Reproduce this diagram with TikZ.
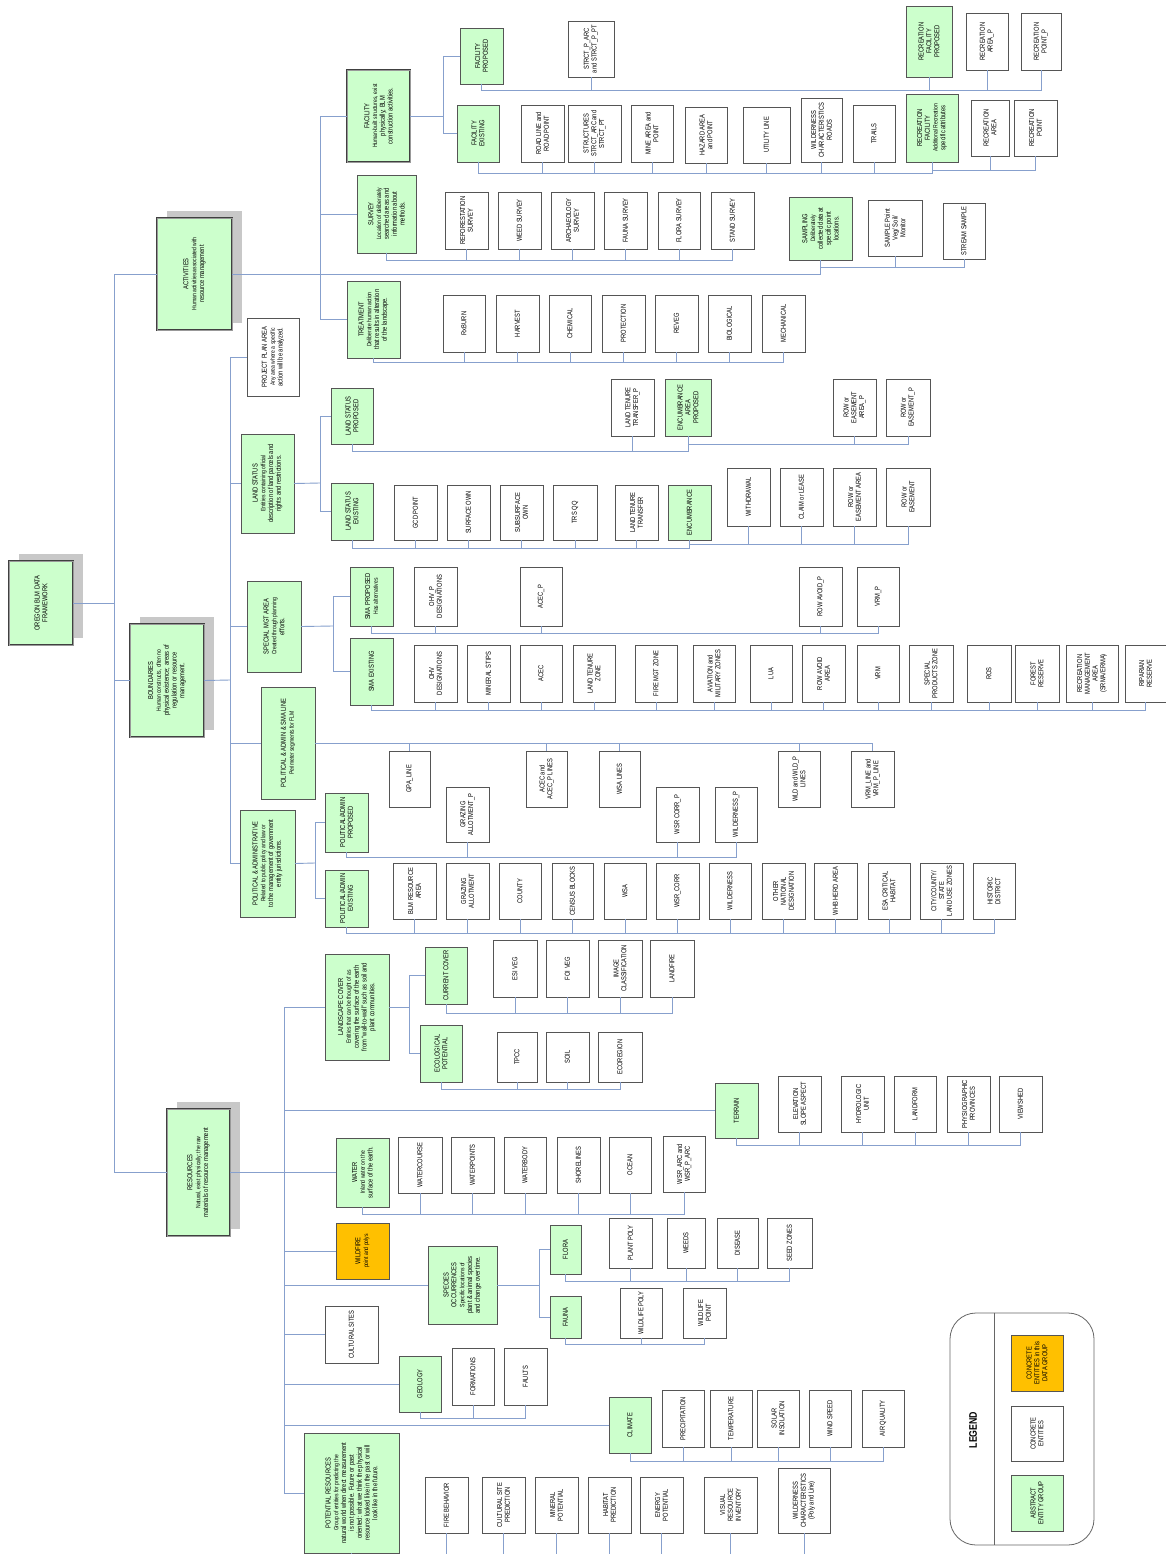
\documentclass[tikz,border=0pt]{standalone}
\usepackage{fontspec}
\setmainfont{Liberation Sans}[FakeStretch=0.8]
\usetikzlibrary{backgrounds,calc}
\definecolor{lgreen}{HTML}{CCFFCC}
\definecolor{orng}{HTML}{FFC000}
\definecolor{connc}{RGB}{135,160,205}
\definecolor{bordc}{HTML}{555555}
\definecolor{shadc}{HTML}{C8C8C8}
\newcommand\lf{\fontsize{7.2}{7.8}\selectfont}
\newcommand\df{\fontsize{6.3}{6.9}\selectfont}
\tikzset{
 box/.style={draw=bordc, line width=0.75pt, fill=white, inner sep=0pt, outer sep=0pt},
 grn/.style={fill=lgreen},
 org/.style={fill=orng},
 major/.style={fill=lgreen, draw=black!75, double=black!40, double distance=0.5pt, line width=0.8pt},
 lbl/.style={rotate=90, align=center, inner sep=0pt, font=\lf, text=black},
 conn/.style={draw=connc, line width=0.9pt},
}
\newcommand\bx[7]{%
 \node[box,#1,minimum width={(#5-#3)*1pt},minimum height={(#6-#4)*1pt}] (#2) at ({(#3+#5)/2},{(#4+#6)/2}) {};
 \node[lbl] (#2-t) at (#2.center) {#7};}
\newcommand\bus[3]{\foreach \ch in {#3}{\draw[conn] (#1.south) -- (#1.south |- 0,#2) -| (\ch.south);}}
\begin{document}
\begin{tikzpicture}[x=1pt,y=-1pt]
\useasboundingbox (0,0) rectangle (1166,1554);
\begin{scope}[on background layer]\fill[white] (0,0) rectangle (1166,1554);\end{scope}

% ---------- top level
\bx{major}{oregon}{9}{561}{73}{645}{OREGON BLM DATA\\FRAMEWORK}
\bx{major}{act}{157}{218}{232}{330}{ACTIVITIES\\\df Human activities associated with\\resource management}
\bx{major}{bound}{130}{624}{204}{737}{BOUNDARIES\\\df Human constructs, often no\\physical existence; areas of\\regulation or resource\\management.}
\bx{major}{res}{167}{1109}{230}{1236}{RESOURCES\\\df Natural, exist physically; the raw\\materials of resource management}

% ---------- activities
\bx{major}{fac}{347}{70}{410}{162}{FACILITY\\\df Human-built structures, exist\\physically; BLM\\construction activities.}
\bx{grn}{facp}{460}{28}{503}{84}{FACILITY\\PROPOSED}
\bx{grn}{face}{457}{105}{499}{162}{FACILITY\\EXISTING}
\bx{}{strp}{568}{21}{614}{77}{STRCT\_P\_ARC\\and STRCT\_P\_PT}
\bx{grn}{rfp}{906}{6}{952}{77}{RECREATION\\FACILITY\\PROPOSED}
\bx{}{rap}{966}{13}{1008}{70}{RECREATION\\AREA\_P}
\bx{}{rpp}{1021}{13}{1061}{70}{RECREATION\\POINT\_P}
\bx{}{road}{521}{105}{564}{162}{ROAD LINE and\\ROAD POINT}
\bx{}{struct}{568}{105}{621}{162}{STRUCTURES\\STRCT\_ARC and\\STRCT\_PT}
\bx{}{mine}{631}{105}{673}{162}{MINE AREA and\\POINT}
\bx{}{hazard}{685}{107}{727}{163}{HAZARD AREA\\and POINT}
\bx{}{utility}{743}{107}{790}{163}{UTILITY LINE}
\bx{}{wcroads}{801}{98}{842}{162}{WILDERNESS\\CHARACTERISTICS\\ROADS}
\bx{}{trails}{853}{105}{895}{162}{TRAILS}
\bx{grn}{recfac}{906}{94}{958}{162}{RECREATION\\FACILITY\\\df Additional Recreation\\specific attributes}
\bx{}{recarea}{971}{100}{1009}{156}{RECREATION\\AREA}
\bx{}{recpoint}{1014}{100}{1057}{156}{RECREATION\\POINT}

\bx{grn}{survey}{357}{175}{416}{253}{SURVEY\\\df Location of deliberately\\searched areas and\\information about\\methods.}
\bx{}{refor}{445}{192}{488}{249}{REFORESTATION\\SURVEY}
\bx{}{weed}{498}{192}{541}{249}{WEED SURVEY}
\bx{}{arch}{551}{192}{594}{249}{ARCHAEOLOGY\\SURVEY}
\bx{}{faunas}{604}{192}{647}{249}{FAUNA SURVEY}
\bx{}{floras}{658}{192}{700}{249}{FLORA SURVEY}
\bx{}{stand}{711}{192}{754}{249}{STAND SURVEY}
\bx{grn}{sampling}{789}{197}{852}{260}{SAMPLING\\\df Deliberately\\collected data at\\specific point\\locations.}
\bx{}{samplept}{868}{200}{922}{256}{SAMPLE Point\\Veg/ Soil/\\Monitor}
\bx{}{stream}{943}{203}{985}{259}{STREAM SAMPLE}

\bx{grn}{treat}{347}{281}{400}{358}{TREATMENT\\\df Deliberate human action\\that results in alteration\\of the landscape.}
\bx{}{rx}{443}{295}{485}{352}{RxBURN}
\bx{}{harvest}{496}{295}{539}{352}{HARVEST}
\bx{}{chem}{549}{295}{591}{352}{CHEMICAL}
\bx{}{prot}{602}{295}{645}{352}{PROTECTION}
\bx{}{reveg}{655}{295}{698}{352}{REVEG}
\bx{}{bio}{708}{295}{751}{352}{BIOLOGICAL}
\bx{}{mech}{762}{295}{805}{352}{MECHANICAL}

% ---------- boundaries
\bx{}{ppa}{247}{318}{299}{396}{PROJECT PLAN AREA\\\df Any area where a specific\\action will be analyzed.}
\bx{grn}{ls}{241}{434}{294}{533}{LAND STATUS\\\df Entities containing official\\description of land parcels and\\rights and restrictions.}
\bx{grn}{lsp}{331}{388}{373}{444}{LAND STATUS\\PROPOSED}
\bx{grn}{lse}{331}{483}{373}{540}{LAND STATUS\\EXISTING}
\bx{}{lttp}{611}{379}{654}{436}{LAND TENURE\\TRANSFER\_P}
\bx{grn}{encap}{665}{379}{711}{436}{ENCUMBRANCE\\AREA\\PROPOSED}
\bx{}{rowap}{833}{379}{876}{436}{ROW or\\EASEMENT\\AREA\_P}
\bx{}{rowp}{886}{379}{930}{436}{ROW or\\EASEMENT\_P}
\bx{}{gcd}{394}{485}{437}{540}{GCD POINT}
\bx{}{surf}{447}{485}{490}{540}{SURFACE OWN}
\bx{}{subs}{500}{485}{543}{540}{SUBSURFACE\\OWN}
\bx{}{trs}{553}{485}{597}{540}{TRS QQ}
\bx{}{ltt}{615}{485}{658}{540}{LAND TENURE\\TRANSFER}
\bx{grn}{enc}{668}{485}{711}{540}{ENCUMBRANCE}
\bx{}{withd}{727}{468}{770}{526}{WITHDRAWAL}
\bx{}{claim}{780}{468}{823}{526}{CLAIM or LEASE}
\bx{}{rowa}{833}{468}{876}{526}{ROW or\\EASEMENT AREA}
\bx{}{row}{886}{468}{930}{526}{ROW or\\EASEMENT}

\bx{grn}{sma}{247}{581}{301}{672}{SPECIAL MGT AREA\\\df Created through planning\\efforts.}
\bx{grn}{smap}{350}{567}{393}{626}{SMA PROPOSED\\\df Has alternatives}
\bx{grn}{smae}{350}{638}{393}{705}{SMA EXISTING}
\bx{}{ohvp}{414}{567}{457}{626}{OHV\_P\\DESIGNATIONS}
\bx{}{acecp}{520}{567}{562}{626}{ACEC\_P}
\bx{}{rowavp}{799}{567}{842}{626}{ROW AVOID\_P}
\bx{}{vrmp}{857}{567}{899}{626}{VRM\_P}
\bx{}{ohv}{414}{645}{457}{702}{OHV\\DESIGNATIONS}
\bx{}{minst}{467}{645}{510}{702}{MINERAL STIPS}
\bx{}{acec}{520}{645}{562}{702}{ACEC}
\bx{}{ltz}{573}{645}{615}{702}{LAND TENURE\\ZONE}
\bx{}{fire}{635}{645}{677}{702}{FIRE MGT ZONE}
\bx{}{avia}{693}{645}{735}{702}{AVIATION and\\MILITARY ZONES}
\bx{}{lua}{750}{645}{792}{702}{LUA}
\bx{}{rowav}{802}{645}{845}{702}{ROW AVOID\\AREA}
\bx{}{vrm}{857}{645}{899}{702}{VRM}
\bx{}{spz}{909}{645}{953}{702}{SPECIAL\\PRODUCTS ZONE}
\bx{}{ros}{967}{645}{1011}{702}{ROS}
\bx{}{forest}{1015}{645}{1059}{702}{FOREST\\RESERVE}
\bx{}{rma}{1066}{645}{1118}{702}{RECREATION\\MANAGEMENT\\AREA\\(SRMA/ERMA)}
\bx{}{rip}{1125}{645}{1166}{702}{RIPARIAN\\RESERVE}

\bx{grn}{psl}{261}{687}{315}{799}{POLITICAL \& ADMIN \& SMA LINE\\\df Perimeter segments for FLM}
\bx{}{gpa}{389}{751}{430}{807}{GPA\_LINE}
\bx{}{acecl}{526}{751}{567}{807}{ACEC and\\ACEC\_P LINES}
\bx{}{wsal}{599}{751}{640}{807}{WSA LINES}
\bx{}{wldl}{778}{751}{820}{807}{WLD and WLD\_P\\LINES}
\bx{}{vrml}{851}{751}{894}{807}{VRM\_LINE and\\VRM\_P\_LINE}

\bx{grn}{pa}{240}{810}{295}{917}{POLITICAL \& ADMINISTRATIVE\\\df Related to public policy and law or\\to the management of government\\entity jurisdictions.}
\bx{grn}{pap}{325}{793}{368}{852}{POLITICAL/ADMIN\\PROPOSED}
\bx{grn}{pae}{325}{870}{368}{927}{POLITICAL/ADMIN\\EXISTING}
\bx{}{grazp}{446}{787}{489}{842}{GRAZING\\ALLOTMENT\_P}
\bx{}{wsrcp}{656}{787}{699}{842}{WSR CORR\_P}
\bx{}{wildp}{715}{787}{757}{842}{WILDERNESS\_P}
\bx{}{blm}{393}{863}{436}{919}{BLM RESOURCE\\AREA}
\bx{}{graz}{446}{863}{489}{919}{GRAZING\\ALLOTMENT}
\bx{}{county}{499}{863}{541}{919}{COUNTY}
\bx{}{census}{552}{863}{593}{919}{CENSUS BLOCKS}
\bx{}{wsa}{604}{863}{646}{919}{WSA}
\bx{}{wsrc}{656}{863}{699}{919}{WSR\_CORR}
\bx{}{wild}{709}{863}{751}{919}{WILDERNESS}
\bx{}{other}{762}{863}{805}{919}{OTHER\\NATIONAL\\DESIGNATION}
\bx{}{whb}{814}{863}{857}{919}{WHB HERD AREA}
\bx{}{esa}{868}{863}{910}{919}{ESA CRITICAL\\HABITAT}
\bx{}{city}{920}{863}{963}{919}{CITY/COUNTY/\\STATE\\LAND USE ZONES}
\bx{}{hist}{973}{863}{1015}{919}{HISTORIC\\DISTRICT}

% ---------- resources
\bx{grn}{lc}{325}{954}{389}{1060}{LANDSCAPE COVER\\\df Entities that can be thought of as\\covering the surface of the earth\\from ``wall-to-wall'' such as soil and\\plant communities.}
\bx{grn}{cc}{425}{947}{467}{1004}{CURRENT COVER}
\bx{grn}{eco}{420}{1025}{462}{1082}{ECOLOGICAL\\POTENTIAL}
\bx{}{esi}{493}{940}{537}{997}{ESI VEG}
\bx{}{foi}{546}{940}{589}{997}{FOI VEG}
\bx{}{img}{598}{940}{642}{997}{IMAGE\\CLASSIFICATION}
\bx{}{landfire}{650}{940}{694}{997}{LANDFIRE}
\bx{}{tpcc}{497}{1032}{537}{1082}{TPCC}
\bx{}{soil}{546}{1032}{589}{1082}{SOIL}
\bx{}{ecoreg}{598}{1032}{642}{1082}{ECOREGION}
\bx{grn}{terrain}{715}{1083}{758}{1138}{TERRAIN}
\bx{}{elev}{778}{1076}{821}{1132}{ELEVATION\\SLOPE ASPECT}
\bx{}{hydro}{841}{1076}{884}{1132}{HYDROLOGIC\\UNIT}
\bx{}{landform}{894}{1076}{936}{1132}{LANDFORM}
\bx{}{physio}{947}{1076}{990}{1132}{PHYSIOGRAPHIC\\PROVINCES}
\bx{}{viewshed}{999}{1076}{1042}{1132}{VIEWSHED}
\bx{grn}{water}{336}{1138}{389}{1207}{WATER\\\df Inland water on the\\surface of the earth.}
\bx{}{wcourse}{398}{1137}{442}{1193}{WATERCOURSE}
\bx{}{wpoints}{451}{1137}{494}{1193}{WATERPOINTS}
\bx{}{wbody}{504}{1137}{546}{1193}{WATERBODY}
\bx{}{shore}{557}{1137}{600}{1193}{SHORELINES}
\bx{}{ocean}{609}{1137}{651}{1193}{OCEAN}
\bx{}{wsrarc}{663}{1136}{705}{1192}{WSR\_ARC and\\WSR\_P\_ARC}
\bx{org}{wildfire}{336}{1223}{389}{1279}{WILDFIRE\\\df point and polys}
\bx{grn}{species}{428}{1246}{497}{1324}{SPECIES\\OCCURRENCES\\\df Specific locations of\\plant \& animal species\\and change over time.}
\bx{grn}{flora}{550}{1225}{581}{1274}{FLORA}
\bx{grn}{fauna}{550}{1296}{581}{1338}{FAUNA}
\bx{}{plant}{609}{1218}{652}{1268}{PLANT POLY}
\bx{}{weeds}{667}{1218}{705}{1268}{WEEDS}
\bx{}{disease}{717}{1218}{758}{1268}{DISEASE}
\bx{}{seed}{767}{1218}{812}{1268}{SEED ZONES}
\bx{}{wlpoly}{620}{1288}{662}{1338}{WILDLIFE POLY}
\bx{}{wlpoint}{683}{1288}{726}{1338}{WILDLIFE\\POINT}
\bx{}{cultural}{325}{1306}{378}{1363}{CULTURAL SITES}
\bx{grn}{geology}{399}{1356}{441}{1412}{GEOLOGY}
\bx{}{form}{452}{1348}{494}{1405}{FORMATIONS}
\bx{}{faults}{504}{1348}{547}{1405}{FAULTS}
\bx{grn}{climate}{609}{1397}{651}{1453}{CLIMATE}
\bx{}{precip}{662}{1390}{704}{1447}{PRECIPITATION}
\bx{}{temp}{710}{1390}{752}{1447}{TEMPERATURE}
\bx{}{solar}{757}{1390}{799}{1447}{SOLAR\\INSOLATION}
\bx{}{wind}{809}{1390}{851}{1447}{WIND SPEED}
\bx{}{air}{862}{1390}{904}{1447}{AIR QUALITY}
\bx{grn}{pot}{304}{1433}{399}{1553}{POTENTIAL RESOURCES\\\df Group of entities for predicting the\\natural world when direct measurement\\is not possible.  Future or past\\oriented:  what we think the physical\\resource looked like in the past or will\\look like in the future.}
\bx{}{firebeh}{425}{1477}{468}{1533}{FIRE BEHAVIOR}
\bx{}{cultpred}{482}{1477}{525}{1533}{CULTURAL SITE\\PREDICTION}
\bx{}{minpot}{535}{1477}{578}{1533}{MINERAL\\POTENTIAL}
\bx{}{habpred}{588}{1477}{631}{1533}{HABITAT\\PREDICTION}
\bx{}{energy}{640}{1477}{683}{1533}{ENERGY\\POTENTIAL}
\bx{}{visual}{704}{1477}{757}{1533}{VISUAL\\RESOURCE\\INVENTORY}
\bx{}{wildchar}{778}{1468}{830}{1533}{WILDERNESS\\CHARACTERISTICS\\(Poly and Line)}

% ---------- legend
\node[draw=black!60, line width=0.8pt, rounded corners=26pt, minimum width=144pt, minimum height=232pt, inner sep=0pt, fill=white] (legend) at (1022,1429) {};
\draw[draw=black!60, line width=0.8pt] (legend.north -| 994,0) -- (legend.south -| 994,0);
\node[lbl, font=\bfseries\fontsize{11}{12}\selectfont] (legend-t) at (973,1430) {LEGEND};
\bx{org}{lgc}{1011}{1335}{1063}{1391}{CONCRETE\\ENTITIES in this\\DATA GROUP}
\bx{}{lgw}{1011}{1406}{1063}{1461}{CONCRETE\\ENTITIES}
\bx{grn}{lga}{1011}{1475}{1063}{1531}{ABSTRACT\\ENTITY GROUP}

% ---------- shadows
\begin{scope}[on background layer]
\foreach \ch in {oregon,act,bound,res}{\fill[shadc] ([shift={(10,-7)}]\ch.south west) rectangle ([shift={(10,-7)}]\ch.north east);}
\end{scope}

% ---------- connectors
\coordinate (mainj) at (114,603);
\draw[conn] (oregon.east) -- (mainj);
\foreach \ch in {act,bound,res}{\draw[conn] (mainj) |- (\ch.west);}
\coordinate (actj) at (320,274);
\draw[conn] (act.east) -- (actj);
\draw[conn] (actj) -| (sampling.south);
\foreach \ch in {fac,survey,treat}{\draw[conn] (actj) |- (\ch.west);}
\coordinate (facj) at (443,116);
\draw[conn] (fac.east) -- (facj);
\foreach \ch in {facp,face}{\draw[conn] (facj) |- (\ch.west);}
\bus{facp}{90}{strp,rfp,rap,rpp}
\bus{face}{173}{road,struct,mine,hazard,utility,wcroads,trails,recfac}
\bus{recfac}{170}{recarea,recpoint}
\bus{survey}{260}{refor,weed,arch,faunas,floras,stand}
\bus{sampling}{267}{samplept,stream}
\bus{treat}{362}{rx,harvest,chem,prot,reveg,bio,mech}

\coordinate (bj) at (230,680);
\draw[conn] (bound.east) -- (bj);
\foreach \ch in {ppa,ls,sma,psl,pa}{\draw[conn] (bj) |- (\ch.west);}
\coordinate (lsj) at (320,483);
\draw[conn] (ls.east) -- (lsj);
\foreach \ch in {lsp,lse}{\draw[conn] (lsj) |- (\ch.west);}
\bus{lsp}{451}{lttp,encap}
\bus{encap}{444}{rowap,rowp}
\bus{lse}{548}{gcd,surf,subs,trs,ltt,enc}
\bus{enc}{544}{withd,claim,rowa,row}
\coordinate (smaj) at (333,626);
\draw[conn] (sma.east) -- (smaj);
\foreach \ch in {smap,smae}{\draw[conn] (smaj) |- (\ch.west);}
\bus{smap}{633}{ohvp,acecp,rowavp,vrmp}
\bus{smae}{710}{ohv,minst,acec,ltz,fire,avia,lua,rowav,vrm,spz,ros,forest,rma,rip}
\foreach \ch in {gpa,acecl,wsal,wldl,vrml}{\draw[conn] (psl.east) -| (\ch.north);}
\coordinate (paj) at (315,863);
\draw[conn] (pa.east) -- (paj);
\foreach \ch in {pap,pae}{\draw[conn] (paj) |- (\ch.west);}
\bus{pap}{857}{grazp,wsrcp,wildp}
\bus{pae}{933}{blm,graz,county,census,wsa,wsrc,wild,other,whb,esa,city,hist}

\coordinate (rj) at (284,1172);
\draw[conn] (res.east) -- (water.west);
\foreach \ch in {lc,terrain,wildfire,species,cultural,geology,climate,pot}{\draw[conn] (rj) |- (\ch.west);}
\coordinate (lcj) at (409,1007);
\draw[conn] (lc.east) -- (lcj);
\foreach \ch in {cc,eco}{\draw[conn] (lcj) |- (\ch.west);}
\bus{cc}{1013}{esi,foi,img,landfire}
\bus{eco}{1089}{tpcc,soil,ecoreg}
\bus{terrain}{1145}{elev,hydro,landform,physio,viewshed}
\bus{water}{1214}{wcourse,wpoints,wbody,shore,ocean,wsrarc}
\coordinate (spj) at (539,1285);
\draw[conn] (species.east) -- (spj);
\foreach \ch in {flora,fauna}{\draw[conn] (spj) |- (\ch.west);}
\bus{flora}{1281}{plant,weeds,disease,seed}
\bus{fauna}{1344}{wlpoly,wlpoint}
\bus{geology}{1418}{form,faults}
\bus{climate}{1461}{precip,temp,solar,wind,air}
\coordinate (bot) at (0,1562);
\foreach \ch in {pot,firebeh,cultpred,minpot,habpred,energy,visual,wildchar}{\draw[conn] (\ch.south) -- (\ch.south |- bot);}
\end{tikzpicture}
\end{document}
